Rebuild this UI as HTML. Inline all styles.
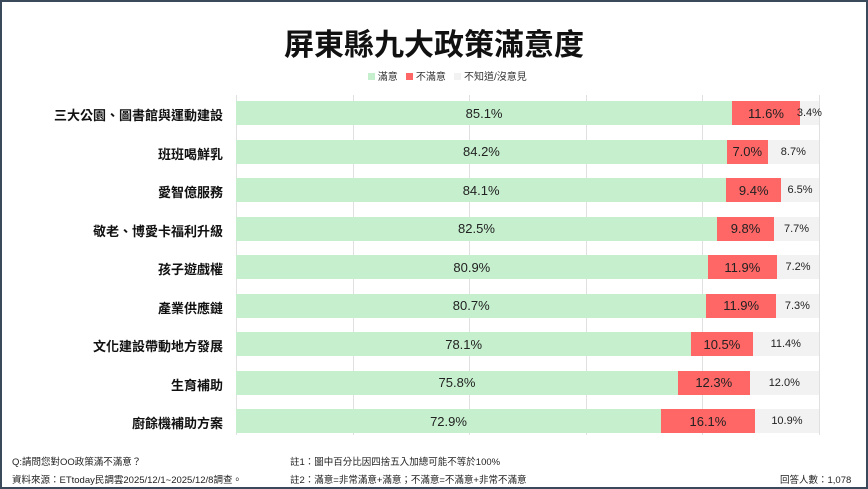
<!DOCTYPE html>
<html><head><meta charset="utf-8"><style>
body{margin:0;width:868px;height:489px;background:#fff;font-family:"Liberation Sans","Noto Sans CJK TC",sans-serif;overflow:hidden}
.frame{position:absolute;left:0;top:0;width:864px;height:485px;border:2px solid #3b4a5a;}
.t{position:absolute;white-space:nowrap}
.grid{position:absolute;top:95px;height:340px;width:1px;background:#e0e0e0}
.bar{position:absolute;height:24px;display:flex;align-items:center;justify-content:center;font-size:13px;color:#222}
.lab{position:absolute;right:645px;font-size:13px;color:#111;font-weight:bold;white-space:nowrap}
.ft{position:absolute;font-size:9.5px;color:#222;white-space:nowrap}
</style></head><body>
<div class="frame"></div>
<div class="t" style="left:0;width:868px;text-align:center;top:20px;font-size:30px;font-weight:bold;color:#111;font-family:'Noto Sans CJK TC',sans-serif">屏東縣九大政策滿意度</div>
<div class="t" style="left:368px;top:68px;font-size:10px;color:#333">
<span style="display:inline-block;width:7px;height:7px;background:#c6efce"></span> 滿意 &nbsp;
<span style="display:inline-block;width:7px;height:7px;background:#ff6666"></span> 不滿意 &nbsp;
<span style="display:inline-block;width:7px;height:7px;background:#f2f2f2"></span> 不知道/沒意見</div>
<div id="g"></div>
<div class="ft" style="left:12px;top:454px">Q:請問您對OO政策滿不滿意？</div>
<div class="ft" style="left:12px;top:472px">資料來源：ETtoday民調雲2025/12/1~2025/12/8調查。</div>
<div class="ft" style="left:290px;top:454px">註1：圖中百分比因四捨五入加總可能不等於100%</div>
<div class="ft" style="left:290px;top:472px">註2：滿意=非常滿意+滿意；不滿意=不滿意+非常不滿意</div>
<div class="ft" style="left:780px;top:472px">回答人數：1,078</div>
<script>
var d=[["三大公園、圖書館與運動建設",85.1,11.6,3.4],["班班喝鮮乳",84.2,7.0,8.7],["愛智億服務",84.1,9.4,6.5],["敬老、博愛卡福利升級",82.5,9.8,7.7],["孩子遊戲權",80.9,11.9,7.2],["產業供應鏈",80.7,11.9,7.3],["文化建設帶動地方發展",78.1,10.5,11.4],["生育補助",75.8,12.3,12.0],["廚餘機補助方案",72.9,16.1,10.9]];
var h="",L=236,W=583;
for(var i=0;i<6;i++)h+='<div class="grid" style="left:'+(L+i*W/5)+'px"></div>';
d.forEach(function(r,i){var y=101+i*38.5,a=r[1]/100*W,b=r[2]/100*W,c=W-a-b;
h+='<div class="lab" style="top:'+(y+4)+'px">'+r[0]+'</div>';
h+='<div class="bar" style="left:'+L+'px;top:'+y+'px;width:'+a+'px;background:#c6efce">'+r[1].toFixed(1)+'%</div>';
h+='<div class="bar" style="left:'+(L+a)+'px;top:'+y+'px;width:'+b+'px;background:#ff6666">'+r[2].toFixed(1)+'%</div>';
h+='<div class="bar" style="left:'+(L+a+b)+'px;top:'+y+'px;width:'+c+'px;background:#f2f2f2;font-size:11px">'+r[3].toFixed(1)+'%</div>';});
document.getElementById("g").innerHTML=h;
</script>
</body></html>
